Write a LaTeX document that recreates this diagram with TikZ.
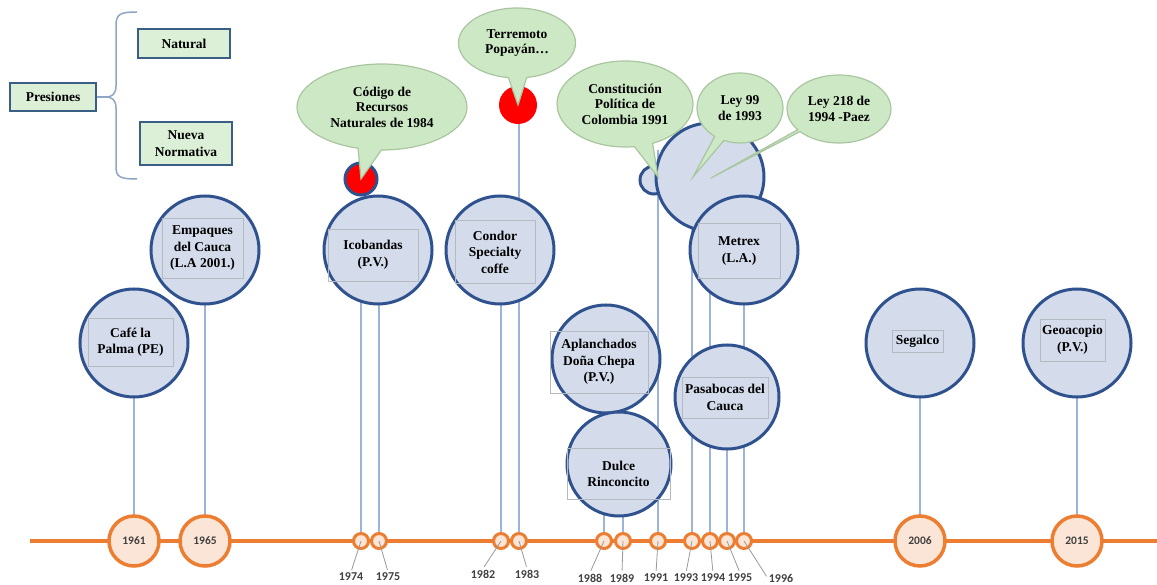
\documentclass[tikz,border=0pt]{standalone}
\usepackage{fontspec}
\setmainfont{Liberation Serif}
\newfontfamily\yearfont{Carlito}
\usetikzlibrary{shapes.callouts,shapes.geometric}
\definecolor{evfill}{HTML}{D4DCEC}
\definecolor{evdraw}{HTML}{2F528F}
\definecolor{vline}{HTML}{9DB3DE}
\definecolor{orng}{HTML}{ED7D31}
\definecolor{peach}{HTML}{FBE5D6}
\definecolor{bfill}{HTML}{CDE8C4}
\definecolor{bdraw}{HTML}{A9C6A0}
\definecolor{gfill}{HTML}{DCF0D7}
\definecolor{gdraw}{HTML}{3B5E84}
\definecolor{bracec}{HTML}{8FA5C4}
\definecolor{ygray}{HTML}{404040}
\definecolor{boxgray}{HTML}{B4B9C2}
\definecolor{redc}{HTML}{FF0000}
\newcommand{\evfont}{\fontsize{13.5}{16.5}\selectfont\bfseries}
\newcommand{\bubfont}{\fontsize{13.5}{15.5}\selectfont\bfseries}
\begin{document}
\begin{tikzpicture}[x=1pt,y=-1pt,
  ev/.style={circle, draw=evdraw, line width=3pt, fill=evfill, minimum size=#1, inner sep=0pt},
  ev/.default=108,
  tbox/.style={draw=boxgray, line width=0.8pt, inner sep=0pt, align=center, font=\evfont},
  vl/.style={draw=vline, line width=2.5pt},
  yearbig/.style={circle, draw=orng, line width=3.5pt, fill=peach, minimum size=50, inner sep=0pt, font=\yearfont\fontsize{11.5}{12}\selectfont\bfseries, text=ygray},
  yearsm/.style={circle, draw=orng, line width=3pt, fill=peach, minimum size=15, inner sep=0pt},
  ylab/.style={font=\yearfont\fontsize{12}{13}\selectfont\bfseries, text=ygray, inner sep=1pt},
  leader/.style={draw=gray!80, line width=0.8pt, shorten >=2pt},
  bub/.style={ellipse callout, draw=bdraw, line width=1.2pt, fill=bfill, inner sep=0pt, align=center, font=\bubfont},
  gbox/.style={draw=gdraw, line width=1.5pt, fill=gfill, inner sep=0pt, align=center, font=\evfont},
  bracel/.style={draw=bracec, line width=1.5pt},
  redc/.style={circle, fill=redc, inner sep=0pt, minimum size=#1},
]
\useasboundingbox (0,0) rectangle (1157,585);

% ---- year markers (positions) ----
\coordinate (tl0) at (30,541);
\coordinate (tl1) at (1157,541);

% ---- event circles positions as coordinates for vertical lines ----
\coordinate (cCafe) at (134,343);
\coordinate (cEmp) at (205,250);
\coordinate (cIco) at (378,250);
\coordinate (cCon) at (500,250);
\coordinate (cApl) at (606,359);
\coordinate (cDul) at (619,464);
\coordinate (cMet) at (744,250);
\coordinate (cPas) at (727,397);
\coordinate (cBig) at (710,177);
\coordinate (cSeg) at (920,343);
\coordinate (cGeo) at (1077,343);
\coordinate (cRedB) at (518,105);
\coordinate (cTop91) at (658,150);

% year circle coordinates
\coordinate (p1961) at (134,541);
\coordinate (p1965) at (205,541);
\coordinate (p1974) at (361,541);
\coordinate (p1975) at (379,541);
\coordinate (p1982) at (501,541);
\coordinate (p1983) at (519,541);
\coordinate (p1988) at (604,541);
\coordinate (p1989) at (623,541);
\coordinate (p1991) at (658,541);
\coordinate (p1993) at (692,541);
\coordinate (p1994) at (710,541);
\coordinate (p1995) at (727,541);
\coordinate (p1996) at (744,541);
\coordinate (p2006) at (920,541);
\coordinate (p2015) at (1077,541);

% ---- vertical lines ----
\draw[vl] (cCafe) -- (p1961);
\draw[vl] (cEmp) -- (p1965);
\draw[vl] (p1974 |- cIco) -- (p1974);
\draw[vl] (p1975 |- cIco) -- (p1975);
\draw[vl] (p1982 |- cCon) -- (p1982);
\draw[vl] (p1983 |- cRedB) -- (p1983);
\draw[vl] (p1988 |- cDul) -- (p1988);
\draw[vl] (p1989 |- cDul) -- (p1989);
\draw[vl] (cTop91) -- (p1991);
\draw[vl] (p1993 |- cBig) -- (p1993);
\draw[vl] (p1994 |- cMet) -- (p1994);
\draw[vl] (p1995 |- cPas) -- (p1995);
\draw[vl] (p1996 |- cMet) -- (p1996);
\draw[vl] (cSeg) -- (p2006);
\draw[vl] (cGeo) -- (p2015);

% ---- timeline ----
\draw[orng, line width=4pt] (tl0) -- (tl1);

\node[yearbig] (y1961) at (p1961) {1961};
\node[yearbig] (y1965) at (p1965) {1965};
\node[yearbig] (y2006) at (p2006) {2006};
\node[yearbig] (y2015) at (p2015) {2015};
\foreach \yy in {1974,1975,1982,1983,1988,1989,1991,1993,1994,1995,1996}
  \node[yearsm] (y\yy) at (p\yy) {};

% year labels and leaders
\node[ylab] (l1974) at (351,577) {1974};
\node[ylab] (l1975) at (388,577) {1975};
\node[ylab] (l1982) at (483,574) {1982};
\node[ylab] (l1983) at (527,574) {1983};
\node[ylab] (l1988) at (590,578) {1988};
\node[ylab] (l1989) at (622,578) {1989};
\node[ylab] (l1991) at (656,578) {1991};
\node[ylab] (l1993) at (686,578) {1993};
\node[ylab] (l1994) at (713,578) {1994};
\node[ylab] (l1995) at (740,578) {1995};
\node[ylab] (l1996) at (781,578) {1996};
\foreach \yy in {1974,1975,1982,1983,1988,1989,1991,1993,1994,1995}
  \draw[leader] (y\yy.center) -- (l\yy.north);
\draw[leader] (y1996.center) -- (l1996.west);

% ---- event circles ----
\node[ev] (cafe) at (cCafe) {};
\node[tbox, minimum width=85, minimum height=48] (tCafe) at (130.5,342) {Café la\\Palma (PE)};
\node[ev] (emp) at (cEmp) {};
\node[tbox, minimum width=81, minimum height=60] (tEmp) at (202.5,248.5) {Empaques\\del Cauca\\(L.A 2001.)};
\node[ev] (ico) at (cIco) {};
\node[tbox, minimum width=90, minimum height=52] (tIco) at (373,255) {Icobandas\\(P.V.)};
\node[ev] (con) at (cCon) {};
\node[tbox, minimum width=80, minimum height=63] (tCon) at (495,252) {Condor\\Specialty\\coffe};
\node[ev] (apl) at (cApl) {};
\node[tbox, minimum width=98, minimum height=62] (tApl) at (599,362) {Aplanchados\\Doña Chepa\\(P.V.)};
\node[ev=104] (dul) at (cDul) {};
\node[tbox, minimum width=103, minimum height=51] (tDul) at (618.5,474) {Dulce\\Rinconcito};
\node[ev=28] (sm91) at (654,180) {};
\node[ev] (big) at (cBig) {};
\node[ev] (met) at (cMet) {};
\node[tbox, minimum width=82, minimum height=55] (tMet) at (739,251) {Metrex\\(L.A.)};
\node[ev=104] (pas) at (cPas) {};
\node[tbox, minimum width=86, minimum height=41] (tPas) at (725,397.5) {Pasabocas del\\Cauca};
\node[ev] (seg) at (cSeg) {};
\node[tbox, minimum width=51, minimum height=22] (tSeg) at (917.5,341) {Segalco};
\node[ev] (geo) at (cGeo) {};
\node[tbox, minimum width=65, minimum height=42] (tGeo) at (1072.5,340) {Geoacopio\\(P.V.)};

% red circles
\node[redc=32, draw=evdraw, line width=3pt] (redA) at (361,179) {};
\node[redc=38] (redB) at (cRedB) {};

% ---- callouts ----
\coordinate (tip91) at (658,177);
\coordinate (tip93) at (693,177);
\coordinate (tip94) at (711,178);
\node[bub, minimum width=104, minimum height=68, callout pointer arc=4, callout absolute pointer={(tip94)}] (bLey218) at (839,109) {Ley 218 de\\1994 -Paez};
\node[bub, minimum width=86, minimum height=70, callout pointer arc=14, callout absolute pointer={(tip93)}] (bLey99) at (740,108) {Ley 99\\de 1993};
\node[bub, minimum width=136, minimum height=86, callout pointer arc=16, callout absolute pointer={(tip91)}] (bCons) at (625,104) {Constitución\\Política de\\Colombia 1991};
\node[bub, minimum width=170, minimum height=86, callout pointer arc=16, callout absolute pointer={(redA.center)}] (bCod) at (382,107) {Código de\\Recursos\\Naturales de 1984};
\node[bub, minimum width=117, minimum height=70, callout pointer arc=18, callout absolute pointer={(redB.center)}] (bTer) at (517,43) {Terremoto\\Popayán…};

% ---- Presiones group ----
\node[gbox, minimum width=86, minimum height=28] (pres) at (53,97) {Presiones};
\node[gbox, minimum width=92, minimum height=29] (nat) at (184,43.5) {Natural};
\node[gbox, minimum width=92, minimum height=43] (nueva) at (186,143.5) {Nueva\\Normativa};
\coordinate (bTip) at (106,97);
\coordinate (bTop) at (137,12);
\coordinate (bBot) at (137,179);
\draw[bracel] (pres.east) -- (bTip);
\draw[bracel] (bTop) .. controls (120,12) and (116,14) .. (116,26) -- (116,86)
  .. controls (116,94) and (112,97) .. (bTip)
  .. controls (112,97) and (116,100) .. (116,108) -- (116,167)
  .. controls (116,177) and (120,179) .. (bBot);
\end{tikzpicture}
\end{document}
